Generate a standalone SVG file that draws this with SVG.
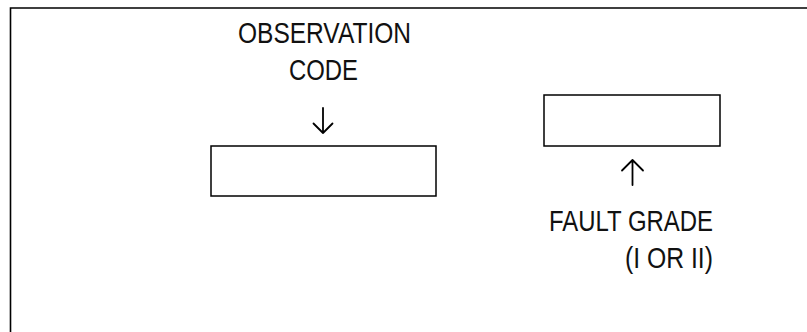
<svg xmlns="http://www.w3.org/2000/svg" width="807" height="332" viewBox="0 0 807 332">
<style>
.box{fill:#fff;stroke:#000;stroke-width:1.5}
.lbl{font-family:"Liberation Sans Narrow","Liberation Sans",Arial,sans-serif;font-size:29px;fill:#111}
.arr{fill:none;stroke:#000;stroke-width:1.8;stroke-linecap:round;stroke-linejoin:round}
.frame{fill:none;stroke:#000;stroke-width:1.6}
</style>
<rect width="807" height="332" fill="#fff"/>
<path class="frame" d="M10.5,332 V8 H807"/>
<g id="observation-code">
<text class="lbl" x="238" y="43" textLength="173" lengthAdjust="spacingAndGlyphs">OBSERVATION</text>
<text class="lbl" x="289" y="80" textLength="69" lengthAdjust="spacingAndGlyphs">CODE</text>
</g>
<g id="box-left">
<rect class="box" x="211" y="146" width="225" height="50"/>
</g>
<g id="box-right">
<rect class="box" x="544" y="95" width="176" height="51"/>
</g>
<g id="fault-grade">
<text class="lbl" x="549" y="231" textLength="164" lengthAdjust="spacingAndGlyphs">FAULT GRADE</text>
<text class="lbl" x="625" y="268" textLength="88" lengthAdjust="spacingAndGlyphs">(I OR II)</text>
</g>
<g id="connectors">
<path class="arr" d="M323,108 V133 M313.5,123.5 L323,133 L332.5,123.5"/>
<path class="arr" d="M632.5,185 V160 M622,170.5 L632.5,160 L643,170.5"/>
</g>
</svg>
